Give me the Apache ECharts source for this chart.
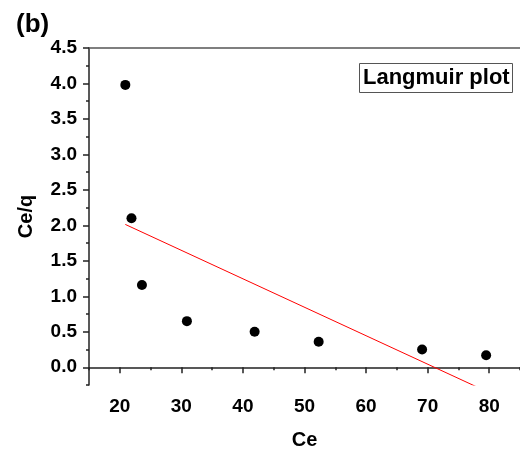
<!DOCTYPE html>
<html>
<head>
<meta charset="utf-8">
<script src="https://cdn.jsdelivr.net/npm/echarts@6/dist/echarts.min.js"></script>
<style>
  html, body { margin: 0; padding: 0; background: #fff; }
  #chart { width: 520px; height: 455px; }
</style>
</head>
<body>
<div id="chart"></div>
<script>
// Langmuir isotherm data: equilibrium concentration Ce vs Ce/q
const ce = [20.9, 21.9, 23.6, 30.9, 41.9, 52.3, 69.1, 79.5];
const ceOverQ = [3.98, 2.10, 1.16, 0.65, 0.50, 0.36, 0.25, 0.17];

const xMajorTicks = [20, 30, 40, 50, 60, 70, 80];
const xMinorTicks = [15, 25, 35, 45, 55, 65, 75, 85];
const yMajorTicks = [0, 0.5, 1.0, 1.5, 2.0, 2.5, 3.0, 3.5, 4.0, 4.5];
const yMinorTicks = [-0.25, 0.25, 0.75, 1.25, 1.75, 2.25, 2.75, 3.25, 3.75, 4.25];

// Least-squares linear fit through the points
function linearFit(xs, ys) {
  const n = xs.length;
  const mx = xs.reduce((a, b) => a + b, 0) / n;
  const my = ys.reduce((a, b) => a + b, 0) / n;
  let sxy = 0, sxx = 0;
  for (let i = 0; i < n; i++) {
    sxy += (xs[i] - mx) * (ys[i] - my);
    sxx += (xs[i] - mx) * (xs[i] - mx);
  }
  const slope = sxy / sxx;
  return { slope, intercept: my - slope * mx };
}
const fit = linearFit(ce, ceOverQ);
const xStart = Math.min(...ce), xEnd = Math.max(...ce);
const fitLine = [
  [xStart, fit.intercept + fit.slope * xStart],
  [xEnd, fit.intercept + fit.slope * xEnd]
];

const FONT = '"Liberation Sans", Arial, sans-serif';
const X_MIN = 15, X_MAX = 85, Y_MIN = -0.25, Y_MAX = 4.5;

const chart = echarts.init(document.getElementById('chart'), null, { renderer: 'canvas' });
chart.setOption({
  animation: false,
  backgroundColor: '#fff',
  title: [
    {
      text: '(b)', left: 11, top: 7,
      textStyle: { fontFamily: FONT, fontWeight: 'bold', fontSize: 26, color: '#000' }
    },
    {
      text: 'Langmuir plot', left: 359, top: 63,
      padding: [4, 3, 4, 4],
      borderColor: '#555', borderWidth: 1,
      textStyle: { fontFamily: FONT, fontWeight: 'bold', fontSize: 22, color: '#000' }
    }
  ],
  grid: { left: 89, right: -1, top: 48, bottom: 69, containLabel: false },
  xAxis: [
    {
      type: 'value', min: X_MIN, max: X_MAX, position: 'bottom',
      name: 'Ce', nameLocation: 'middle', nameGap: 45,
      nameTextStyle: { fontFamily: FONT, fontWeight: 'bold', fontSize: 20, color: '#000' },
      axisLine: { show: true, lineStyle: { color: '#222', width: 1.5 } },
      axisTick: { show: true, inside: false, length: 6, customValues: xMajorTicks, lineStyle: { color: '#222', width: 1.5 } },
      axisLabel: { customValues: xMajorTicks, margin: 12, fontFamily: FONT, fontWeight: 'bold', fontSize: 19, color: '#000' },
      splitLine: { show: false }
    },
    {
      type: 'value', min: X_MIN, max: X_MAX, position: 'bottom',
      axisLine: { show: false },
      axisTick: { show: true, inside: false, length: 3, customValues: xMinorTicks, lineStyle: { color: '#222', width: 1.5 } },
      axisLabel: { show: false },
      splitLine: { show: false }
    },
    {
      type: 'value', min: X_MIN, max: X_MAX, position: 'top',
      axisLine: { show: true, lineStyle: { color: '#555', width: 1.5 } },
      axisTick: { show: false },
      axisLabel: { show: false },
      splitLine: { show: false }
    }
  ],
  yAxis: [
    {
      type: 'value', min: Y_MIN, max: Y_MAX, position: 'left',
      name: 'Ce/q', nameLocation: 'middle', nameGap: 53, nameRotate: 90,
      nameTextStyle: { fontFamily: FONT, fontWeight: 'bold', fontSize: 20, color: '#000' },
      axisLine: { show: true, lineStyle: { color: '#222', width: 1.5 } },
      axisTick: { show: true, inside: false, length: 6, customValues: yMajorTicks, lineStyle: { color: '#222', width: 1.5 } },
      axisLabel: {
        customValues: yMajorTicks, margin: 12,
        fontFamily: FONT, fontWeight: 'bold', fontSize: 19, color: '#000',
        formatter: v => v.toFixed(1)
      },
      splitLine: { show: false }
    },
    {
      type: 'value', min: Y_MIN, max: Y_MAX, position: 'left',
      axisLine: { show: false },
      axisTick: { show: true, inside: false, length: 3, customValues: yMinorTicks, lineStyle: { color: '#222', width: 1.5 } },
      axisLabel: { show: false },
      splitLine: { show: false }
    }
  ],
  series: [
    {
      type: 'scatter', xAxisIndex: 0, yAxisIndex: 0,
      data: ce.map((x, i) => [x, ceOverQ[i]]),
      symbol: 'circle', symbolSize: 10,
      itemStyle: { color: '#000', opacity: 1 }
    },
    {
      type: 'line', xAxisIndex: 0, yAxisIndex: 0,
      data: fitLine, showSymbol: false, clip: true,
      lineStyle: { color: '#ff0000', width: 1 }
    }
  ]
});
</script>
</body>
</html>
